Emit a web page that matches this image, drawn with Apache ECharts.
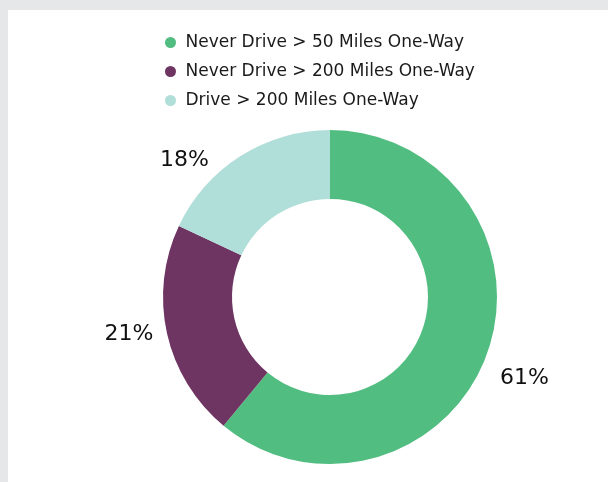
<!DOCTYPE html>
<html>
<head>
<meta charset="utf-8">
<script src="https://cdn.jsdelivr.net/npm/echarts@6/dist/echarts.min.js"></script>
<style>
  html, body { margin: 0; padding: 0; background: #e6e7e9; }
  #chart { position: absolute; left: 8px; top: 10px; width: 600px; height: 472px; background: #fff; }
</style>
</head>
<body>
<div id="chart"></div>
<script>
// chart data
const categories = ['Never Drive > 50 Miles One-Way', 'Never Drive > 200 Miles One-Way', 'Drive > 200 Miles One-Way']
const shares = [61, 21, 18]
const colors = ['#52bd80', '#6e3562', '#b0ded8']
// small nudges so the percent labels sit where the original put them
const labelNudge = [[-9, 19], [9, -3], [-17, 19]]

const chart = echarts.init(document.getElementById('chart'))

chart.setOption({
  animation: false,
  color: colors,
  legend: {
    orient: 'vertical',
    left: 152,
    top: 19,
    icon: 'circle',
    itemWidth: 20,
    itemHeight: 11,
    itemGap: 12,
    textStyle: { fontFamily: 'DejaVu Sans', fontSize: 17, color: '#1a1a1a' },
    data: categories
  },
  series: [{
    type: 'pie',
    center: [322, 287],
    radius: [98, 167],
    startAngle: 90,
    clockwise: true,
    label: {
      position: 'outside',
      formatter: '{c}%',
      fontFamily: 'DejaVu Sans',
      fontSize: 22,
      color: '#111'
    },
    labelLine: { show: false, length: 18, length2: 0 },
    emphasis: { disabled: true },
    data: categories.map((name, i) => ({
      name: name,
      value: shares[i],
      label: { offset: labelNudge[i] }
    }))
  }]
})
</script>
</body>
</html>
